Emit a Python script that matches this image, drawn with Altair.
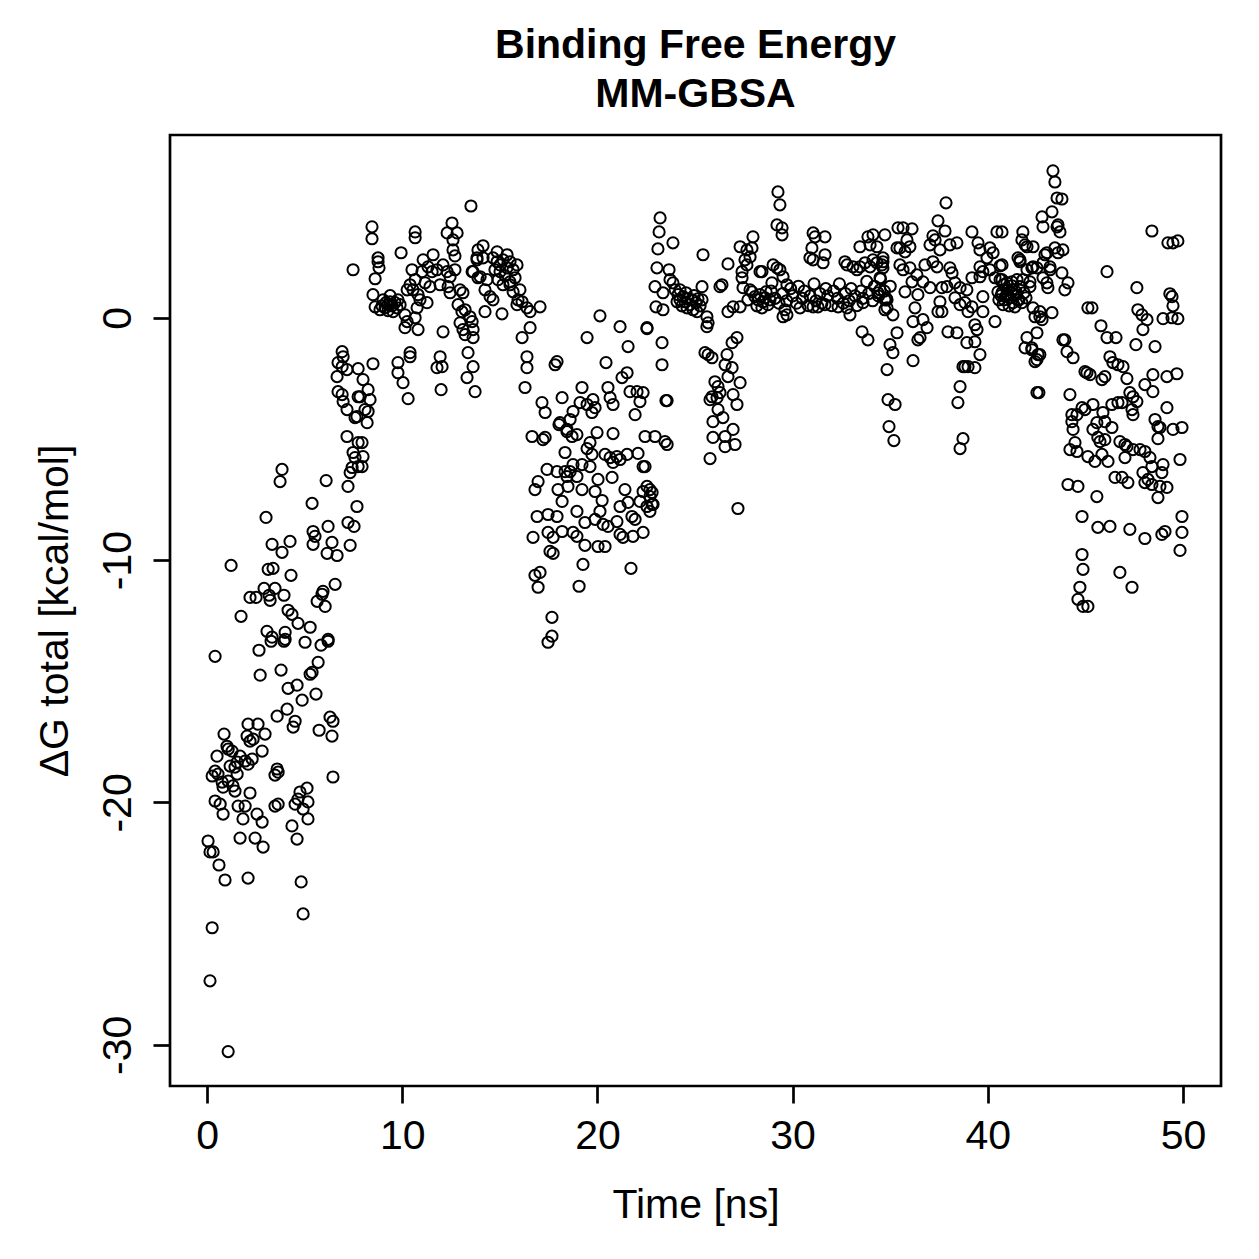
import altair as alt
import pandas as pd

# (time [ns], dG total [kcal/mol]) samples, grouped by trajectory window
win_00_08 = [
    (0.41, -13.97), (2.66, -13.72), (3.28, -13.35), (3.94, -13.35), (5.02, -13.39), (5.84, -13.51),
    (6.20, -13.35), (3.79, -14.54), (2.72, -14.75), (5.69, -14.22), (5.28, -14.71), (5.38, -14.63),
    (4.15, -15.29), (4.61, -15.16), (5.58, -15.53), (4.87, -15.78), (4.10, -16.15), (3.59, -16.44),
    (4.51, -16.65), (4.41, -16.89), (6.30, -16.48), (6.45, -16.65), (6.40, -17.26), (5.74, -17.02),
    (0.87, -17.18), (2.10, -16.77), (2.61, -16.77), (2.97, -17.18), (2.05, -17.26), (2.36, -17.39),
    (2.20, -17.47), (2.82, -17.88), (1.02, -17.68), (1.08, -17.80), (1.28, -17.88), (0.51, -18.09),
    (1.69, -18.09), (1.95, -18.29), (1.54, -18.34), (2.10, -18.42), (2.31, -18.21), (1.18, -18.50),
    (1.43, -18.54), (0.41, -18.71), (0.26, -18.91), (0.56, -18.83), (1.54, -18.83), (0.77, -19.16),
    (1.08, -19.12), (3.59, -18.62), (3.64, -18.75), (3.48, -18.87), (0.82, -19.37), (1.43, -19.53),
    (1.33, -19.32), (2.20, -19.61), (6.45, -18.95), (5.12, -19.41), (4.76, -19.57), (4.66, -19.86),
    (5.17, -19.98), (4.51, -20.07), (4.92, -20.27), (5.17, -20.68), (3.48, -20.15), (3.64, -20.07),
    (0.41, -19.94), (0.67, -20.07), (0.82, -20.48), (1.59, -20.15), (1.95, -20.15), (1.84, -20.68),
    (2.56, -20.48), (2.82, -20.81), (4.35, -20.97), (4.61, -21.51), (0.05, -21.59), (0.15, -22.04),
    (0.31, -22.04), (0.61, -22.58), (0.92, -23.20), (1.69, -21.47), (2.46, -21.47), (2.87, -21.84),
    (2.10, -23.12), (4.82, -23.28), (4.92, -24.60), (0.26, -25.17), (0.15, -27.36), (1.08, -30.28),
    (6.92, -1.40), (6.97, -1.61), (6.71, -1.85), (6.92, -2.02), (7.17, -2.14), (6.66, -2.43),
    (7.74, -2.10), (6.71, -3.05), (6.92, -3.17), (6.97, -3.46), (7.17, -3.79), (7.74, -3.26),
    (7.58, -4.12), (7.17, -4.90), (7.74, -5.15), (7.48, -5.56), (7.58, -5.77), (7.43, -6.18),
    (7.33, -6.39), (7.74, -6.14), (7.22, -6.96), (7.68, -7.79), (3.84, -6.26), (3.74, -6.76),
    (6.10, -6.72), (5.38, -7.66), (3.02, -8.24), (7.22, -8.45), (7.53, -8.61), (5.43, -8.82),
    (5.53, -9.02), (5.43, -9.35), (6.20, -8.61), (3.33, -9.35), (4.25, -9.23), (3.84, -9.68),
    (6.40, -9.27), (6.15, -9.72), (6.66, -9.81), (7.33, -9.39), (1.23, -10.22), (3.13, -10.38),
    (3.38, -10.34), (4.30, -10.63), (6.56, -11.00), (5.94, -11.29), (5.89, -11.41), (5.64, -11.70),
    (6.05, -11.91), (2.20, -11.54), (2.51, -11.54), (2.92, -11.17), (3.48, -11.17), (3.18, -11.45),
    (3.23, -11.66), (3.94, -11.45), (1.74, -12.32), (4.15, -12.07), (4.35, -12.24), (4.66, -12.61),
    (5.28, -12.77), (3.07, -12.94), (3.33, -13.18), (4.00, -12.98), (4.00, -13.27), (6.20, -13.27),
]

win_07_14 = [
    (13.52, 4.61), (8.45, 3.75), (8.45, 3.26), (10.66, 3.54), (10.66, 3.30), (12.55, 3.91),
    (12.30, 3.50), (12.81, 3.50), (12.60, 3.21), (9.94, 2.68), (12.60, 2.80), (12.70, 2.55),
    (8.76, 2.47), (8.76, 2.31), (8.81, 2.06), (8.61, 1.61), (7.48, 1.98), (11.07, 2.39),
    (11.58, 2.60), (11.32, 2.10), (11.53, 1.90), (11.78, 1.98), (12.09, 2.18), (12.30, 1.90),
    (12.45, 1.69), (12.70, 1.98), (10.50, 1.98), (11.01, 1.90), (10.66, 1.57), (11.17, 1.44),
    (11.42, 1.28), (11.94, 1.36), (13.63, 1.90), (13.83, 2.39), (13.88, 1.65), (13.88, 2.80),
    (10.40, 1.36), (10.55, 1.15), (10.81, 0.95), (10.25, 1.15), (10.91, 0.74), (12.35, 1.28),
    (12.45, 1.03), (12.96, 1.15), (13.11, 1.03), (12.86, 0.54), (13.06, 0.25), (13.22, 0.33),
    (13.47, 0.04), (13.58, -0.16), (9.02, 0.74), (9.17, 0.62), (9.27, 0.54), (9.38, 0.66),
    (9.48, 0.49), (9.63, 0.62), (9.73, 0.41), (9.12, 0.41), (9.27, 0.29), (9.53, 0.25),
    (9.78, 0.74), (9.89, 0.54), (8.96, 0.49), (9.38, 0.91), (8.50, 0.95), (8.61, 0.45),
    (8.86, 0.33), (10.14, 0.12), (10.25, -0.16), (10.66, 0.00), (10.81, -0.49), (10.14, -0.41),
    (10.76, 0.41), (11.27, 0.62), (12.09, -0.58), (12.96, -0.21), (13.11, -0.49), (13.22, -0.70),
    (13.63, -0.49), (13.63, -0.82), (13.37, -1.44), (13.63, -2.02), (13.32, -2.47), (13.73, -3.05),
    (8.50, -1.90), (9.78, -1.85), (10.40, -1.44), (10.40, -1.61), (9.78, -2.27), (10.04, -2.68),
    (10.30, -3.34), (11.94, -1.61), (11.78, -2.06), (12.04, -2.02), (11.99, -2.97), (7.99, -2.55),
    (8.25, -2.97), (7.84, -3.26), (8.35, -3.38), (8.09, -3.79), (8.25, -3.87), (8.20, -4.33),
    (7.68, -4.08), (7.94, -5.15), (7.99, -5.73), (7.94, -6.14),
]

win_14_18 = [
    (14.14, 2.97), (14.86, 2.72), (15.37, 2.60), (13.83, 2.47), (14.14, 2.47), (14.65, 2.47),
    (14.86, 2.31), (15.01, 2.18), (15.16, 2.39), (15.37, 2.06), (15.52, 2.31), (15.68, 1.98),
    (15.01, 1.90), (15.27, 1.73), (14.75, 1.98), (15.78, 1.65), (15.52, 1.48), (14.91, 1.57),
    (15.88, 2.18), (15.16, 1.36), (13.58, 1.90), (13.99, 1.69), (14.34, 1.57), (14.24, 1.15),
    (14.50, 0.87), (14.65, 0.74), (15.52, 1.36), (15.68, 1.07), (16.03, 1.15), (15.93, 0.74),
    (16.14, 0.66), (15.88, 0.54), (16.39, 0.41), (16.55, 0.25), (17.06, 0.45), (14.24, 0.25),
    (15.11, 0.16), (16.55, -0.41), (16.14, -0.82), (16.39, -1.61), (16.39, -2.06), (16.29, -2.88),
    (17.93, -1.81), (17.83, -1.94), (17.16, -3.50), (17.32, -3.91), (18.19, -3.30), (18.08, -4.33),
    (18.44, -4.61), (16.65, -4.90), (17.32, -4.94),
]

win_16_24 = [
    (20.13, 0.08), (21.16, -0.37), (22.54, -0.45), (19.47, -0.82), (21.57, -1.19), (23.31, -1.03),
    (20.44, -1.85), (21.52, -2.27), (21.26, -2.47), (23.31, -1.94), (19.21, -2.88), (20.54, -2.88),
    (21.67, -3.05), (22.03, -3.05), (22.18, -3.46), (21.93, -4.00), (23.57, -3.42), (19.11, -3.50),
    (19.47, -3.58), (19.77, -3.38), (19.72, -3.91), (19.88, -3.71), (20.65, -3.30), (20.80, -3.58),
    (18.75, -3.87), (18.60, -4.20), (18.03, -4.41), (18.44, -4.70), (18.70, -4.90), (18.95, -4.82),
    (17.21, -5.03), (19.98, -4.74), (20.80, -4.78), (22.44, -4.90), (22.95, -4.90), (23.46, -5.11),
    (23.57, -5.23), (19.62, -5.15), (19.47, -5.40), (19.72, -5.64), (18.34, -5.56), (18.75, -6.06),
    (18.60, -6.35), (18.34, -6.35), (18.44, -6.55), (20.39, -5.64), (20.65, -5.77), (21.00, -5.73),
    (21.16, -5.85), (21.52, -5.64), (20.80, -5.97), (22.08, -5.60), (17.42, -6.26), (17.93, -6.35),
    (16.96, -6.76), (16.80, -7.09), (19.21, -6.06), (19.62, -6.14), (22.34, -6.14), (18.95, -6.55),
    (18.49, -6.96), (17.98, -7.09), (18.19, -7.58), (20.03, -6.67), (20.75, -6.59), (21.41, -7.09),
    (19.21, -7.09), (19.88, -7.17), (20.24, -7.54), (18.95, -7.99), (20.13, -7.99), (22.54, -6.96),
    (22.69, -7.09), (22.80, -7.21), (22.34, -7.17), (22.18, -7.58), (22.80, -7.70), (21.57, -7.62),
    (21.16, -7.79), (21.77, -8.20), (21.93, -8.32), (22.69, -7.99), (16.91, -8.20), (17.47, -8.12),
    (17.93, -8.20), (19.36, -8.45), (19.88, -8.32), (20.29, -8.53), (20.54, -8.61), (21.00, -8.41),
    (16.70, -9.06), (17.47, -8.86), (17.73, -9.06), (18.19, -8.82), (18.75, -8.86), (18.95, -9.02),
    (21.16, -8.94), (21.31, -9.06), (21.82, -9.02), (22.34, -8.86), (19.36, -9.39), (20.03, -9.44),
    (20.39, -9.44), (17.57, -9.64), (17.73, -9.72), (19.26, -10.18), (21.72, -10.34), (16.80, -10.63),
    (17.06, -10.51), (16.96, -11.12), (19.06, -11.08), (17.67, -12.36), (17.67, -13.14), (17.47, -13.39),
]

win_22_28 = [
    (23.21, 4.12), (23.16, 3.54), (23.10, 2.84), (23.05, 2.06), (22.95, 1.28), (23.00, 0.45),
    (23.87, 3.09), (23.67, 1.98), (23.72, 1.57), (23.87, 1.44), (23.36, 1.03), (23.98, 1.15),
    (24.13, 0.95), (24.23, 0.74), (24.39, 0.87), (24.49, 0.66), (24.64, 0.78), (24.74, 0.54),
    (24.85, 0.74), (24.95, 0.91), (25.05, 0.62), (25.15, 0.78), (25.26, 0.49), (24.59, 0.41),
    (24.33, 0.49), (24.08, 0.66), (24.90, 0.33), (25.10, 0.25), (25.36, 0.74), (24.54, 1.03),
    (24.23, 1.15), (25.41, 2.60), (25.36, 1.28), (25.61, 0.04), (25.67, -0.21), (25.61, -0.37),
    (23.36, 0.33), (22.54, -0.41), (23.51, -3.42), (26.38, 1.36), (26.28, 1.28), (26.69, 2.22),
    (27.97, 3.34), (27.31, 2.93), (27.66, 2.80), (27.82, 2.51), (27.56, 2.39), (27.66, 2.18),
    (27.41, 1.90), (27.41, 1.65), (27.46, 1.24), (27.82, 1.15), (28.43, 1.90), (27.92, 1.07),
    (28.07, 0.87), (28.23, 0.74), (28.33, 0.95), (28.48, 0.66), (28.59, 0.82), (28.74, 0.54),
    (28.84, 0.74), (28.17, 0.49), (28.43, 0.41), (27.71, 0.74), (28.64, 1.07), (26.69, 0.25),
    (26.95, 0.45), (27.31, 0.45), (27.15, -0.82), (26.90, -1.03), (25.51, -1.44), (25.67, -1.52),
    (25.87, -1.65), (26.64, -1.52), (26.54, -1.94), (26.90, -2.06), (26.69, -2.43), (27.31, -2.68),
    (26.95, -3.17), (27.15, -3.58), (26.02, -2.64), (26.18, -2.84), (25.87, -3.26), (26.13, -3.30),
    (25.77, -3.38), (26.28, -3.09), (26.18, -3.79), (26.43, -4.12), (25.92, -4.29), (25.92, -4.94),
    (26.54, -4.90), (26.95, -4.61), (27.05, -5.23), (26.54, -5.32), (25.77, -5.81), (27.20, -7.87),
    (22.34, -3.09), (22.44, -6.14), (22.69, -7.38), (22.85, -7.70), (22.54, -7.79),
]

win_28_35 = [
    (29.25, 5.19), (29.35, 4.66), (29.20, 3.83), (29.46, 3.71), (29.46, 3.42), (27.92, 2.88),
    (31.05, 3.50), (31.15, 3.34), (31.66, 3.34), (30.99, 2.88), (31.66, 2.60), (30.89, 2.47),
    (31.05, 2.39), (31.56, 2.27), (33.45, 2.93), (33.86, 3.34), (34.12, 3.42), (33.97, 3.01),
    (34.32, 2.93), (34.73, 3.42), (35.35, 2.88), (35.40, 3.71), (28.33, 1.90), (29.00, 2.18),
    (29.20, 2.06), (29.35, 1.98), (28.94, 1.44), (29.51, 1.69), (29.71, 1.36), (32.68, 2.31),
    (32.79, 2.18), (33.09, 2.10), (33.30, 1.98), (33.45, 2.10), (33.71, 2.27), (33.97, 2.10),
    (34.12, 2.39), (34.32, 2.27), (34.58, 2.18), (34.63, 2.47), (28.90, 1.10), (29.10, 0.80),
    (29.30, 0.60), (29.50, 1.00), (29.70, 0.70), (29.90, 1.20), (30.00, 0.90), (30.20, 0.60),
    (30.30, 1.30), (30.50, 0.80), (30.60, 1.10), (30.80, 0.50), (30.90, 0.90), (31.10, 1.40),
    (31.20, 0.70), (31.40, 1.00), (31.50, 0.60), (31.70, 1.20), (31.80, 0.90), (32.00, 0.50),
    (32.10, 1.10), (32.30, 0.80), (32.40, 1.40), (32.60, 0.60), (32.70, 1.00), (32.90, 0.70),
    (33.00, 1.20), (33.20, 0.90), (33.30, 0.50), (33.50, 1.10), (33.60, 0.80), (33.80, 1.50),
    (33.90, 1.00), (34.10, 0.70), (34.20, 1.30), (34.40, 0.90), (34.50, 1.60), (34.70, 1.10),
    (34.80, 0.80), (35.00, 1.30), (29.61, 0.33), (29.71, 0.12), (29.51, 0.04), (30.38, 0.41),
    (31.05, 0.45), (31.30, 0.45), (31.66, 0.54), (32.33, 0.45), (32.94, 0.12), (32.79, 0.41),
    (33.61, 0.62), (34.37, 1.03), (34.84, 0.74), (34.73, 0.33), (35.14, 0.12), (33.56, -0.58),
    (33.86, -0.91), (35.35, -0.62), (34.99, -1.11), (35.14, -1.44), (34.84, -2.14), (34.89, -3.38),
    (35.25, -3.58), (34.94, -4.49), (35.19, -5.07),
]

win_35_42 = [
    (37.86, 4.74), (37.45, 4.00), (37.81, 3.58), (37.19, 3.38), (37.30, 3.21), (37.04, 3.01),
    (37.55, 2.80), (38.06, 3.01), (38.42, 3.09), (35.66, 3.71), (36.12, 3.67), (35.86, 3.21),
    (36.01, 2.93), (35.50, 2.88), (35.76, 2.72), (39.19, 3.54), (40.47, 3.54), (41.80, 3.54),
    (41.75, 3.21), (42.01, 2.93), (42.32, 2.93), (39.50, 3.09), (39.60, 2.80), (40.11, 2.88),
    (40.27, 2.68), (39.96, 2.47), (34.63, 2.31), (34.63, 2.06), (34.48, 1.65), (35.50, 2.18),
    (35.66, 1.98), (36.01, 2.06), (36.37, 1.77), (36.12, 1.48), (35.76, 1.07), (36.42, 0.95),
    (36.78, 2.18), (37.19, 2.31), (37.40, 2.10), (38.06, 2.06), (38.17, 1.85), (36.68, 1.48),
    (37.04, 1.24), (37.65, 1.24), (37.91, 1.28), (38.32, 1.44), (38.58, 1.24), (38.93, 1.15),
    (39.19, 1.65), (39.60, 1.69), (39.60, 2.10), (39.75, 1.90), (40.11, 1.98), (40.63, 2.14),
    (40.37, 1.65), (40.73, 1.57), (40.98, 1.44), (41.24, 1.48), (41.50, 1.57), (41.65, 2.39),
    (40.52, 1.07), (40.68, 0.91), (40.83, 0.74), (40.98, 0.99), (41.14, 0.82), (41.29, 0.62),
    (41.45, 0.95), (41.60, 0.74), (40.78, 0.54), (41.09, 0.49), (41.39, 0.45), (40.57, 0.74),
    (41.24, 1.15), (41.80, 1.57), (42.16, 1.48), (42.26, 2.06), (42.01, 1.98), (34.48, 1.15),
    (34.73, 0.74), (34.84, 0.41), (36.27, 0.41), (36.17, -0.16), (36.68, -0.08), (36.89, -0.41),
    (36.53, -0.82), (36.42, -0.91), (37.55, 0.66), (37.65, 0.25), (37.45, 0.25), (38.32, 0.82),
    (38.58, 0.54), (38.83, 0.62), (38.99, 0.25), (39.19, 0.45), (39.75, 0.87), (39.75, 0.25),
    (40.37, -0.16), (39.34, -0.29), (39.45, -0.49), (39.34, -0.99), (38.93, -1.03), (39.60, -1.52),
    (37.96, -0.58), (38.42, -0.62), (36.17, -1.77), (38.83, -2.02), (38.99, -2.02), (39.34, -2.06),
    (38.73, -2.02), (38.58, -2.84), (38.47, -3.50), (38.73, -4.99), (38.58, -5.40), (42.32, 0.41),
    (42.42, 0.04), (42.52, -0.62), (42.01, -0.82), (42.26, -1.24), (42.52, -1.73), (42.52, -3.09),
]

win_40_45 = [
    (43.34, 6.06), (43.44, 5.60), (43.55, 4.94), (43.80, 4.90), (43.29, 4.37), (42.78, 4.16),
    (42.83, 3.75), (43.60, 3.83), (43.70, 3.54), (41.91, 3.01), (42.93, 2.60), (43.44, 2.88),
    (43.85, 2.80), (43.60, 2.68), (41.55, 2.47), (41.65, 2.31), (42.32, 2.10), (42.52, 2.06),
    (43.19, 2.10), (40.73, 3.54), (40.63, 1.57), (40.83, 1.36), (41.04, 1.15), (41.24, 1.32),
    (41.45, 1.07), (41.65, 1.28), (41.86, 1.03), (41.96, 0.82), (40.93, 0.87), (41.55, 0.74),
    (41.75, 0.62), (40.73, 1.03), (42.83, 1.65), (43.03, 1.44), (43.08, 1.24), (43.80, 1.85),
    (44.11, 1.44), (43.95, 1.15), (42.16, 1.28), (40.73, 2.18), (42.67, 0.25), (42.78, -0.08),
    (43.29, 0.21), (45.13, 0.41), (41.91, -1.24), (42.26, -1.32), (42.57, -1.52), (42.42, -1.81),
    (43.95, -0.91), (44.06, -1.40), (44.37, -1.65), (44.98, -2.22), (45.08, -2.27), (45.24, -2.35),
    (42.62, -3.09), (44.21, -3.17), (44.83, -3.71), (44.31, -4.00), (43.55, 3.75), (43.03, 2.68),
    (42.83, 2.27), (43.19, 1.98), (42.67, 0.04), (42.67, -1.52), (43.85, -0.91),
]

win_45_50 = [
    (48.41, 3.58), (49.23, 3.09), (49.49, 3.09), (49.74, 3.17), (46.11, 1.90), (47.64, 1.24),
    (49.33, 0.99), (49.44, 0.87), (49.49, 0.49), (45.34, 0.41), (47.69, 0.33), (47.90, 0.12),
    (48.16, -0.08), (47.95, -0.49), (48.98, -0.04), (49.44, 0.00), (49.74, -0.04), (45.80, -0.33),
    (46.11, -0.82), (46.57, -0.82), (47.59, -1.11), (48.57, -1.19), (46.26, -1.61), (46.41, -1.85),
    (46.67, -1.94), (46.93, -2.02), (45.85, -2.55), (46.00, -2.43), (47.13, -2.51), (48.46, -2.35),
    (48.05, -2.76), (48.46, -3.05), (49.18, -2.43), (49.69, -2.31), (46.88, -3.50), (47.28, -3.09),
    (47.44, -3.26), (47.64, -3.46), (47.39, -3.79), (47.44, -4.00), (46.36, -3.58), (46.67, -3.50),
    (45.90, -3.91), (45.39, -3.58), (44.98, -3.79), (44.57, -4.00), (44.31, -4.29), (44.37, -4.61),
    (48.57, -4.20), (48.72, -4.49), (48.82, -4.53), (49.18, -3.71), (49.49, -4.61), (49.95, -4.53),
    (48.72, -4.99), (45.59, -4.33), (46.00, -4.29), (46.36, -4.53), (45.39, -4.61), (45.64, -4.94),
    (46.00, -5.03), (45.75, -5.11), (44.47, -5.15), (44.21, -5.44), (44.57, -5.52), (46.77, -5.11),
    (47.03, -5.23), (47.13, -5.32), (47.44, -5.44), (47.80, -5.44), (48.05, -5.52), (45.13, -5.73),
    (45.49, -5.93), (45.85, -5.64), (46.16, -5.93), (47.03, -5.77), (48.31, -5.77), (48.41, -6.14),
    (48.98, -6.06), (49.85, -5.85), (46.52, -6.59), (46.88, -6.59), (47.18, -6.80), (47.95, -6.39),
    (48.05, -6.80), (48.21, -6.67), (48.41, -6.88), (48.92, -6.39), (48.82, -6.96), (49.18, -7.00),
    (48.72, -7.42), (44.11, -6.88), (44.62, -6.96), (45.59, -7.38), (44.83, -8.20), (45.64, -8.65),
    (46.26, -8.61), (47.28, -8.73), (48.05, -9.11), (48.92, -8.94), (49.08, -8.82), (49.95, -8.20),
    (49.95, -8.86), (49.85, -9.60), (44.83, -9.77), (44.88, -10.38), (44.72, -11.12), (44.62, -11.62),
    (44.88, -11.91), (45.13, -11.91), (46.77, -10.51), (47.39, -11.12),
]

x_ticks = [0, 10, 20, 30, 40, 50]
y_ticks = [-30, -20, -10, 0]

rows = []
for window in (win_00_08, win_07_14, win_14_18, win_16_24, win_22_28,
               win_28_35, win_35_42, win_40_45, win_45_50):
    rows.extend(window)
df = pd.DataFrame(rows, columns=["time_ns", "dg_total"])

FONT = "Liberation Sans"

points = alt.Chart(df).mark_point(
    shape="circle", filled=False, color="black", opacity=1,
    strokeWidth=2.0, size=125,
).encode(
    x=alt.X(
        "time_ns:Q",
        scale=alt.Scale(domain=[-1.9, 51.95], nice=False, zero=False),
        axis=alt.Axis(values=x_ticks, title="Time [ns]", labelExpr="'' + datum.value",
                      labelPadding=13, titlePadding=29),
    ),
    y=alt.Y(
        "dg_total:Q",
        scale=alt.Scale(domain=[-31.7, 7.54], nice=False, zero=False),
        axis=alt.Axis(values=y_ticks, title="ΔG total [kcal/mol]", labelExpr="'' + datum.value",
                      labelAngle=-90, labelAlign="center", labelBaseline="bottom",
                      labelPadding=14, titlePadding=21),
    ),
)

chart = points.properties(
    width=1051,
    height=951,
    title=alt.TitleParams(
        text=["Binding Free Energy", "MM-GBSA"],
        font=FONT, fontSize=41, fontWeight="bold", color="black",
        anchor="middle", lineHeight=49, offset=30, dy=52, baseline="bottom",
    ),
    autosize=alt.AutoSizeParams(type="none"),
    padding={"left": 170, "top": 135, "right": 38, "bottom": 173},
    background="white",
).configure_view(
    stroke="black", strokeWidth=2.7,
).configure_axis(
    grid=False, domain=False,
    tickColor="black", tickWidth=2.7, tickSize=17,
    labelFont=FONT, labelFontSize=41, labelColor="black",
    titleFont=FONT, titleFontSize=41, titleFontWeight="normal", titleColor="black",
)

chart.save("out.html", embed_options={"renderer": "svg", "actions": False})
